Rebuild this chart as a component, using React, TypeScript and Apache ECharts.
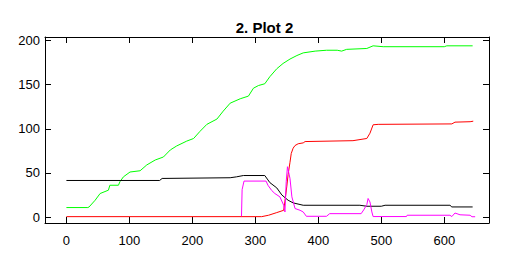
import React, { useEffect, useRef } from "react";
import * as echarts from "echarts";

const titleText = "2. Plot 2";
const xTicks = [0, 100, 200, 300, 400, 500, 600];
const yTicks = [0, 50, 100, 150, 200];

const greenData = [
  [0, 10.7], [34, 10.7], [36, 11.4], [45.6, 19], [53.5, 26.6], [66.7, 30.4], [69, 36], [82.6, 36],
  [85, 40], [90.5, 45.5], [101, 51], [117, 52.4], [127.6, 59], [141, 64.6], [154, 68], [165, 76],
  [175, 80.5], [191, 86], [202, 89], [212, 97], [223, 105], [239, 111], [249, 120], [260, 129],
  [276, 134], [289, 137], [297, 146], [305, 149], [315, 151], [323, 159], [334, 168], [344, 174],
  [355, 179], [366, 183], [376, 186], [395, 188], [413, 189], [430, 189], [437, 188], [445, 190],
  [477, 191], [487, 194], [503, 193], [600, 193], [604, 194], [645, 194],
];

const blackData = [
  [0, 41.4], [148, 41.4], [152, 43.7], [260, 44.5], [270, 45.5], [281, 47], [315, 47], [320, 42],
  [323, 39], [334, 33], [342, 25], [352, 19], [360, 16], [376, 13.3], [466, 13.3], [477, 12.2],
  [500, 12.2], [506, 13.3], [609, 13.3], [612, 11.4], [645, 11.4],
];

const redData = [
  [0, 0.4], [310, 0.4], [321, 2], [334, 5], [345, 7.6], [347, 18], [350, 35], [352, 48], [355, 62],
  [357, 72], [360, 78], [363, 81], [368, 83], [376, 84], [379, 85.5], [455, 86.5], [477, 89],
  [482, 95], [487, 104.5], [495, 105], [612, 105.5], [617, 107.5], [641, 108], [646, 108.6],
];

const magentaData = [
  [278, 0.8], [279, 31], [282, 40.7], [317, 40.7], [320, 36], [326, 30], [331, 26.6], [339, 22.8],
  [345, 13.3], [347, 5.7], [349, 40], [351, 57], [355, 43.7], [358, 22.8], [363, 9.6], [371, 7.6],
  [376, 5.7], [381, 0.8], [413, 0.8], [418, 3.8], [468, 3.8], [472, 8], [477, 14], [479, 21],
  [482, 17], [485, 5.7], [487, 0.5], [540, 0.5], [541, 2], [609, 2], [612, 0.5], [617, 4.5],
  [625, 2.5], [641, 2], [644, 0.3], [649, 0.3],
];

const FONT = "'Liberation Sans', Arial, sans-serif";

export default function App() {
  const ref = useRef<HTMLDivElement>(null);
  useEffect(() => {
    document.body.style.margin = "0";
    const chart = echarts.init(ref.current!, null, { renderer: "svg" });
    const axisLine = { show: true, onZero: false, lineStyle: { color: "#000", width: 1 } };
    const tick = { show: true, inside: true, length: 6, lineStyle: { color: "#000", width: 1 } };
    const xBase = { type: "value" as const, min: -34, max: 671, splitLine: { show: false }, axisLine };
    const yBase = { type: "value" as const, min: -6.8, max: 204, splitLine: { show: false }, axisLine };
    const mk = (name: string, data: number[][], color: string) => ({
      name,
      type: "line",
      data,
      showSymbol: false,
      symbol: "none",
      lineStyle: { color, width: 1 },
      itemStyle: { color },
      xAxisIndex: 0,
      yAxisIndex: 0,
    });
    chart.setOption({
      animation: false,
      backgroundColor: "#fff",
      title: {
        text: titleText,
        left: "center",
        top: 19,
        padding: 0,
        textStyle: { fontFamily: FONT, fontSize: 15, fontWeight: "bold", color: "#000", lineHeight: 16 },
      },
      grid: { left: 45, right: 40, top: 37, bottom: 44 },
      xAxis: [
        {
          ...xBase,
          position: "bottom",
          axisTick: { ...tick, customValues: xTicks },
          axisLabel: { customValues: xTicks, margin: 11, color: "#000", fontFamily: FONT, fontSize: 13 },
        },
        {
          ...xBase,
          position: "top",
          axisTick: { ...tick, customValues: xTicks },
          axisLabel: { show: false },
        },
      ],
      yAxis: [
        {
          ...yBase,
          position: "left",
          axisTick: { ...tick, customValues: yTicks },
          axisLabel: { customValues: yTicks, margin: 5, color: "#000", fontFamily: FONT, fontSize: 13 },
        },
        {
          ...yBase,
          position: "right",
          axisTick: { ...tick, customValues: yTicks },
          axisLabel: { show: false },
        },
      ],
      series: [
        mk("green", greenData, "#00ff00"),
        mk("black", blackData, "#000000"),
        mk("red", redData, "#ff0000"),
        mk("magenta", magentaData, "#ff00ff"),
      ],
    });
    return () => chart.dispose();
  }, []);
  return <div ref={ref} style={{ width: 529, height: 267 }} />;
}
